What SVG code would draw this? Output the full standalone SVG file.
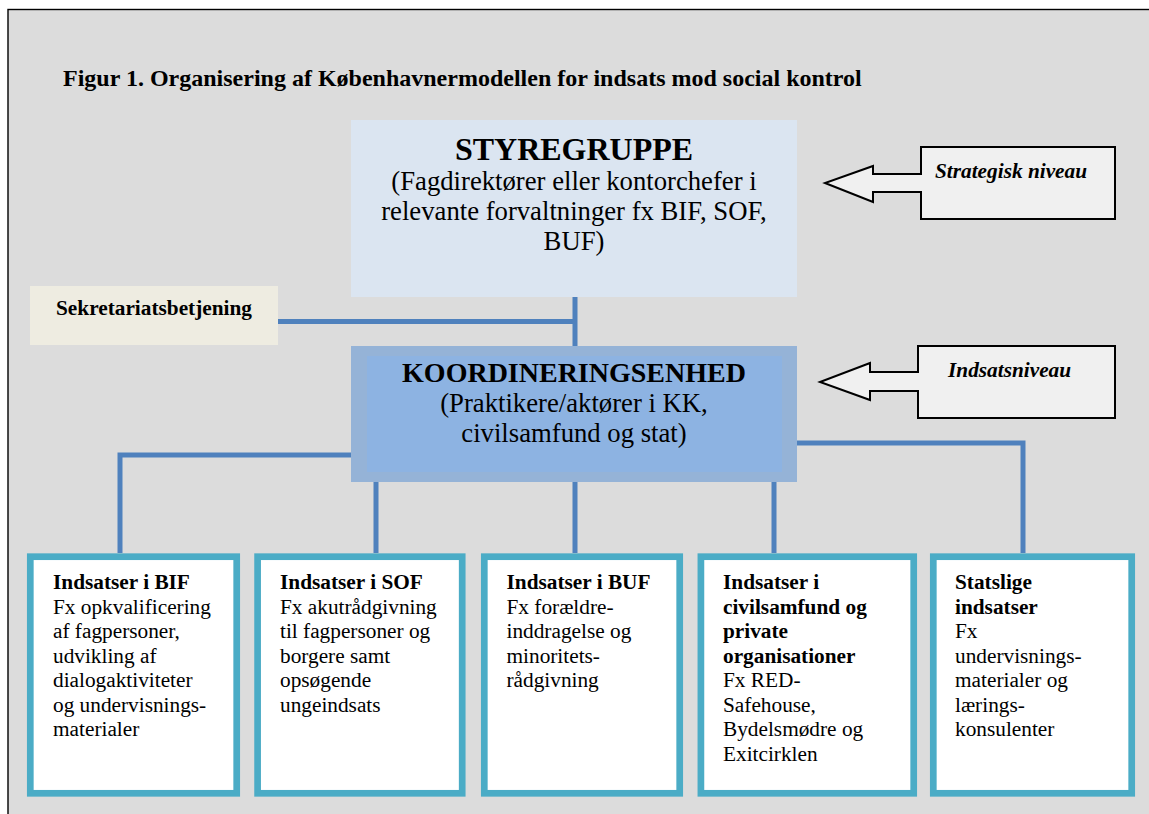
<svg xmlns="http://www.w3.org/2000/svg" width="1149" height="814" viewBox="0 0 1149 814">
<style>
text{font-family:"Liberation Serif","Times New Roman",serif;fill:#000}
.b{font-weight:bold}
.bi{font-weight:bold;font-style:italic;font-size:21.3px}
.body{font-size:21.3px}
.sub{font-size:26.7px}
.c{text-anchor:middle}
.conn{fill:none;stroke:#4f81bd;stroke-width:5}
.call{fill:#f0f0f0;stroke:#000;stroke-width:2}
.leaf{fill:#fff;stroke:#4bacc6;stroke-width:6.7}
</style>
<rect x="0" y="0" width="1149" height="814" fill="#fff"/>
<rect x="8" y="9.5" width="1160" height="830" fill="#dcdcdc" stroke="#000" stroke-width="1.4"/>
<text class="b" x="63" y="86" font-size="24">Figur 1. Organisering af Københavnermodellen for indsats mod social kontrol</text>

<g id="connectors">
<path class="conn" d="M575,297 V346"/>
<path class="conn" d="M278,321.5 H575"/>
<path class="conn" d="M351,455 H120 V553"/>
<path class="conn" d="M376,482 V553"/>
<path class="conn" d="M575,482 V553"/>
<path class="conn" d="M774,482 V553"/>
<path class="conn" d="M797,443 H1023 V553"/>
</g>

<g id="styregruppe">
<rect x="351" y="120" width="446" height="177" fill="#dbe5f1"/>
<text class="b c" x="574" y="160" font-size="32">STYREGRUPPE</text>
<text class="sub c" x="574" y="190">(Fagdirektører eller kontorchefer i</text>
<text class="sub c" x="574" y="220">relevante forvaltninger fx BIF, SOF,</text>
<text class="sub c" x="574" y="250">BUF)</text>
</g>

<g id="sekretariat">
<rect x="30" y="286" width="248" height="59" fill="#eeece1"/>
<text class="b body" x="56" y="315">Sekretariatsbetjening</text>
</g>

<g id="koordinering">
<rect x="351" y="346" width="446" height="136" fill="#95b3d7"/>
<rect x="367" y="356" width="415" height="116" fill="#8db3e2"/>
<text class="b c" x="574" y="382" font-size="28">KOORDINERINGSENHED</text>
<text class="sub c" x="574" y="412">(Praktikere/aktører i KK,</text>
<text class="sub c" x="574" y="442">civilsamfund og stat)</text>
</g>

<g id="strategisk">
<path class="call" d="M921,147 H1115 V219 H921 V192 H873 V202 L825,183 L873,166 V174 H921 Z"/>
<text class="bi" x="935" y="178">Strategisk niveau</text>
</g>

<g id="indsatsniveau">
<path class="call" d="M918,346 H1115 V418 H918 V391 H870 V400 L820,382 L870,363 V372 H918 Z"/>
<text class="bi" x="948" y="377">Indsatsniveau</text>
</g>

<g id="bif">
<rect class="leaf" x="30.3" y="556.7" width="206.4" height="236.6"/>
<text class="body" x="53" y="589"><tspan class="b">Indsatser i BIF</tspan><tspan x="53" dy="24.5">Fx opkvalificering</tspan><tspan x="53" dy="24.5">af fagpersoner,</tspan><tspan x="53" dy="24.5">udvikling af</tspan><tspan x="53" dy="24.5">dialogaktiviteter</tspan><tspan x="53" dy="24.5">og undervisnings-</tspan><tspan x="53" dy="24.5">materialer</tspan></text>
</g>

<g id="sof">
<rect class="leaf" x="257.6" y="556.7" width="204.6" height="236.6"/>
<text class="body" x="280" y="589"><tspan class="b">Indsatser i SOF</tspan><tspan x="280" dy="24.5">Fx akutrådgivning</tspan><tspan x="280" dy="24.5">til fagpersoner og</tspan><tspan x="280" dy="24.5">borgere samt</tspan><tspan x="280" dy="24.5">opsøgende</tspan><tspan x="280" dy="24.5">ungeindsats</tspan></text>
</g>

<g id="buf">
<rect class="leaf" x="484.3" y="556.7" width="195.4" height="236.6"/>
<text class="body" x="506.5" y="589"><tspan class="b">Indsatser i BUF</tspan><tspan x="506.5" dy="24.5">Fx forældre-</tspan><tspan x="506.5" dy="24.5">inddragelse og</tspan><tspan x="506.5" dy="24.5">minoritets-</tspan><tspan x="506.5" dy="24.5">rådgivning</tspan></text>
</g>

<g id="civilsamfund">
<rect class="leaf" x="700.9" y="556.7" width="212.8" height="236.6"/>
<text class="body" x="723" y="589"><tspan class="b">Indsatser i</tspan><tspan class="b" x="723" dy="24.5">civilsamfund og</tspan><tspan class="b" x="723" dy="24.5">private</tspan><tspan class="b" x="723" dy="24.5">organisationer</tspan><tspan x="723" dy="24.5">Fx RED-</tspan><tspan x="723" dy="24.5">Safehouse,</tspan><tspan x="723" dy="24.5">Bydelsmødre og</tspan><tspan x="723" dy="24.5">Exitcirklen</tspan></text>
</g>

<g id="statslige">
<rect class="leaf" x="933.3" y="556.7" width="198.4" height="236.6"/>
<text class="body" x="955" y="589"><tspan class="b">Statslige</tspan><tspan class="b" x="955" dy="24.5">indsatser</tspan><tspan x="955" dy="24.5">Fx</tspan><tspan x="955" dy="24.5">undervisnings-</tspan><tspan x="955" dy="24.5">materialer og</tspan><tspan x="955" dy="24.5">lærings-</tspan><tspan x="955" dy="24.5">konsulenter</tspan></text>
</g>
</svg>
